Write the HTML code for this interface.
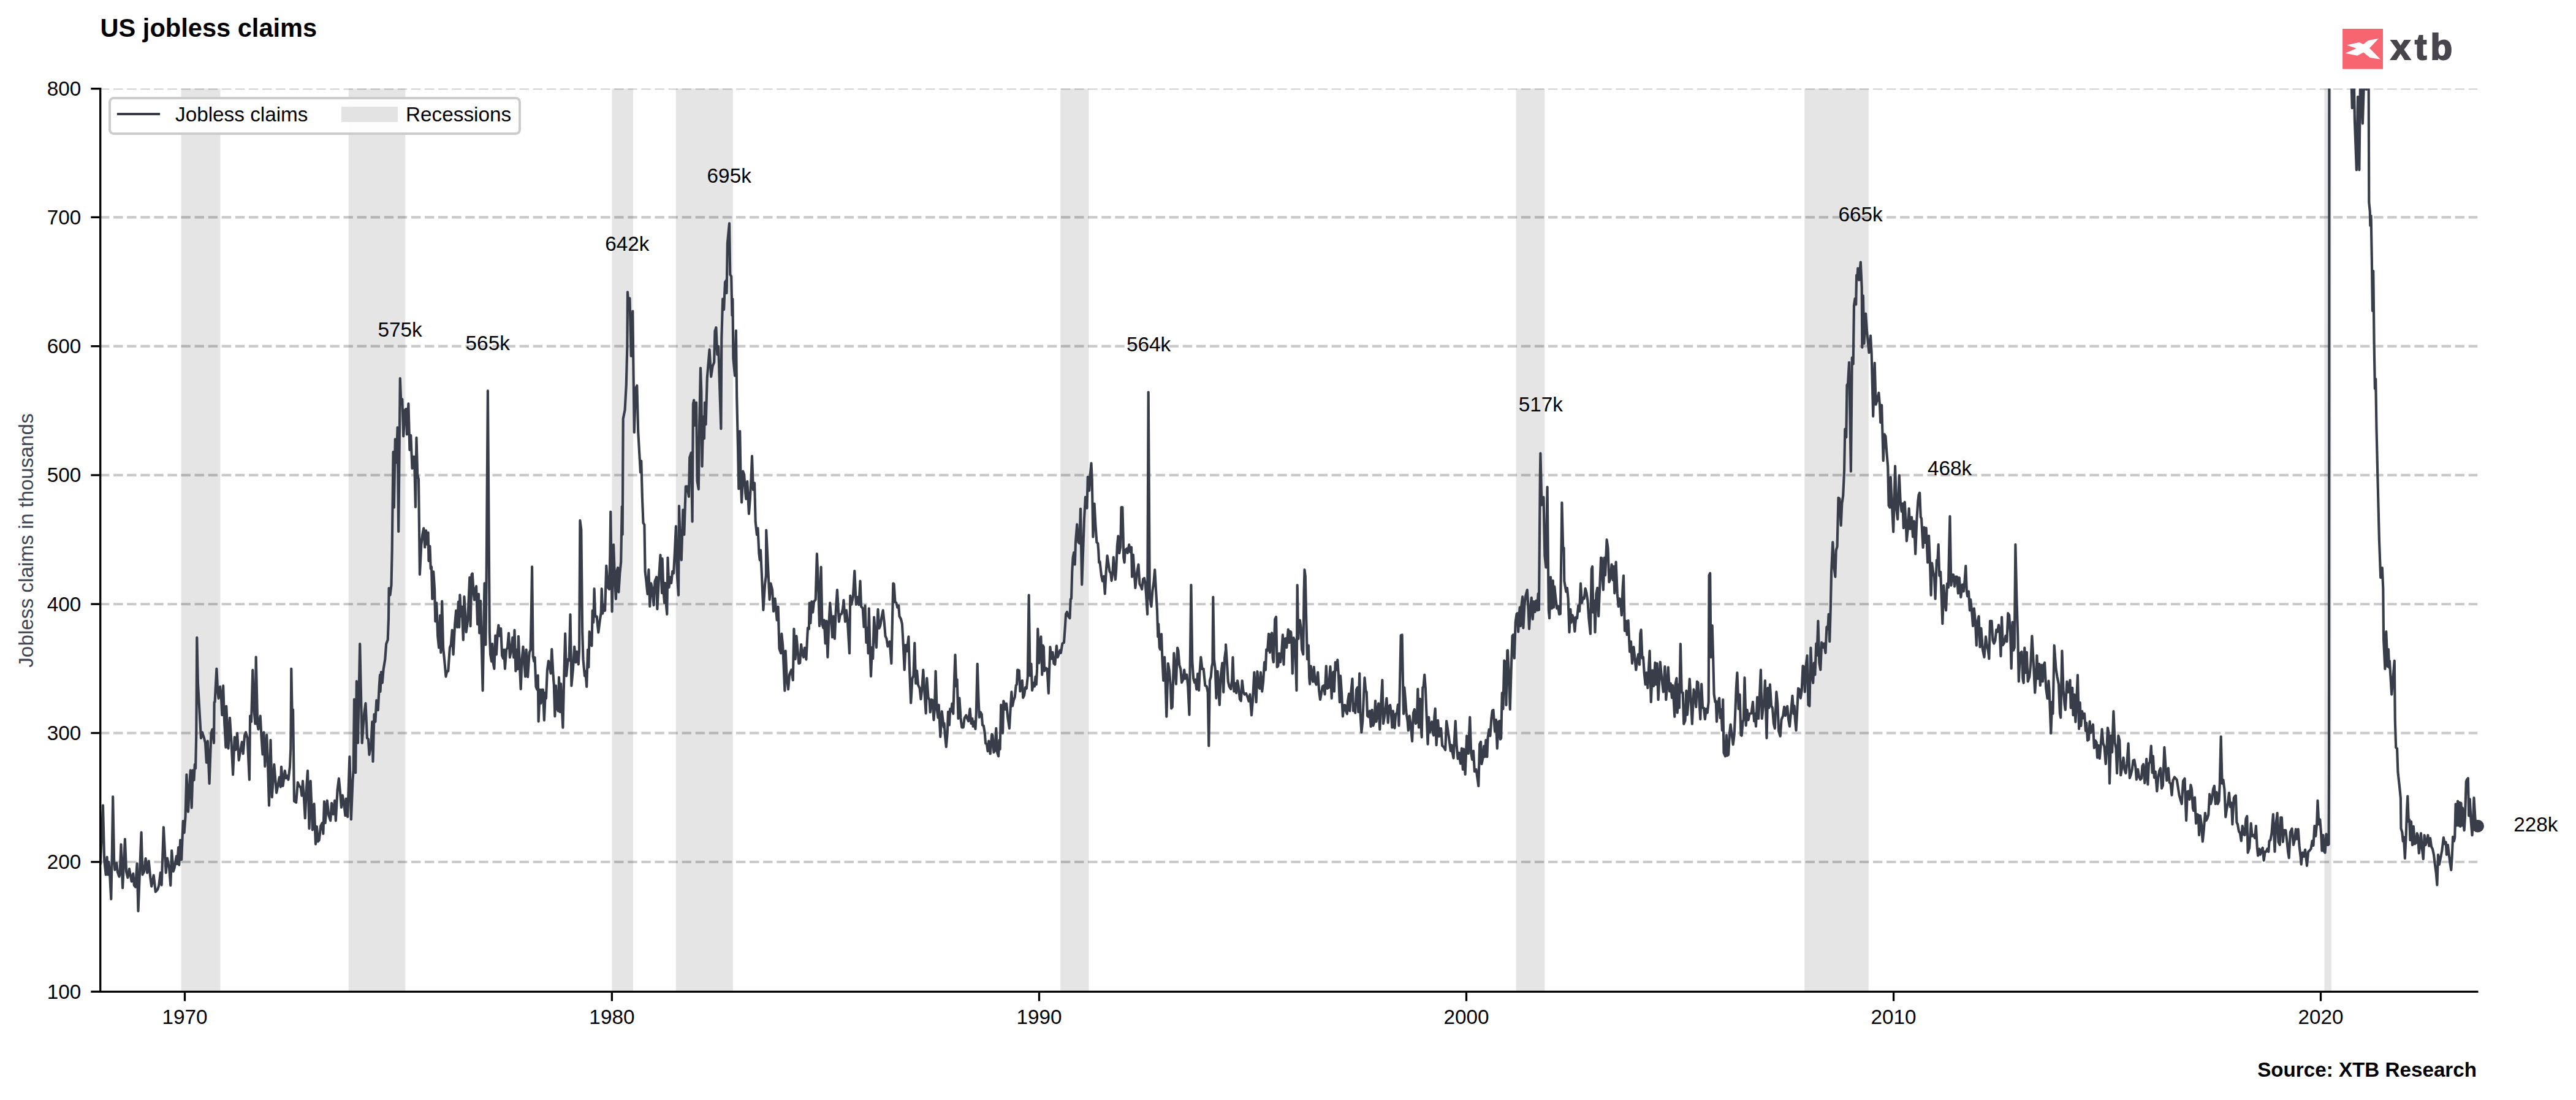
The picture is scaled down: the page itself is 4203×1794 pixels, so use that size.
<!DOCTYPE html>
<html><head><meta charset="utf-8"><title>US jobless claims</title>
<style>
html,body{margin:0;padding:0;background:#fff;}
body{width:4203px;height:1794px;overflow:hidden;}
svg{display:block;}
text{font-family:"Liberation Sans", Arial, Helvetica, sans-serif;}
</style></head><body>
<svg width="4203" height="1794" viewBox="0 0 4203 1794">
<rect width="4203" height="1794" fill="#fff"/>
<defs><clipPath id="c"><rect x="163.7" y="144.45" width="3909.3" height="1472.85"/></clipPath></defs>

<g stroke="#c9c9c9" stroke-width="4.1" stroke-dasharray="15.417 6.667" fill="none">
<line x1="163.0" y1="1405.77" x2="4042.2" y2="1405.77"/>
<line x1="163.0" y1="1195.48" x2="4042.2" y2="1195.48"/>
<line x1="163.0" y1="985.19" x2="4042.2" y2="985.19"/>
<line x1="163.0" y1="774.91" x2="4042.2" y2="774.91"/>
<line x1="163.0" y1="564.62" x2="4042.2" y2="564.62"/>
<line x1="163.0" y1="354.33" x2="4042.2" y2="354.33"/>
</g>
<line x1="163.0" y1="145.40" x2="4042.2" y2="145.40" stroke="#c9c9c9" stroke-width="1.9" stroke-dasharray="15.417 6.667"/>
<g fill="#000" fill-opacity="0.102">
<rect x="295.6" y="144.45" width="63.9" height="1471.65"/>
<rect x="568.7" y="144.45" width="92.6" height="1471.65"/>
<rect x="998.4" y="144.45" width="34.7" height="1471.65"/>
<rect x="1102.8" y="144.45" width="93.1" height="1471.65"/>
<rect x="1730.1" y="144.45" width="46.4" height="1471.65"/>
<rect x="2473.6" y="144.45" width="46.8" height="1471.65"/>
<rect x="2944.2" y="144.45" width="104.6" height="1471.65"/>
<rect x="3792.4" y="144.45" width="11.5" height="1471.65"/>
</g>
<path d="M163.8 1409.0L168.0 1313.6L170.2 1402.7L172.7 1426.5L174.6 1397.9L175.9 1426.5L177.5 1405.9L179.1 1424.9L181.3 1466.3L182.9 1386.8L184.2 1299.3L186.1 1402.7L187.4 1418.6L190.2 1407.5L191.8 1421.8L194.4 1429.7L195.6 1424.9L197.5 1377.2L200.1 1448.2L203.9 1368.6L206.1 1421.8L208.4 1431.3L210.9 1417.0L214.7 1437.7L217.3 1424.9L218.9 1444.0L221.1 1446.6L223.6 1408.4L225.5 1486.0L230.6 1357.5L232.5 1426.5L235.1 1421.8L237.6 1400.1L240.2 1423.4L242.7 1404.3L245.3 1431.3L247.2 1445.6L250.7 1427.5L253.8 1454.5L257.3 1450.4L259.3 1444.0L261.8 1423.4L263.7 1443.4L266.9 1349.2L270.7 1423.4L272.9 1399.5L276.1 1415.4L278.3 1444.0L280.2 1387.4L282.8 1421.1L284.7 1415.4L287.9 1396.3L289.2 1409.0L291.1 1382.0L292.3 1410.6L294.2 1370.2L296.2 1402.0L298.7 1339.1L300.6 1358.1L302.5 1332.7L304.4 1263.3L307.0 1323.8L308.9 1285.0L310.8 1256.3L312.7 1317.4L314.6 1256.3L316.5 1272.3L317.8 1246.8L319.1 1253.2L320.3 1195.9L321.3 1039.8L322.9 1113.6L325.4 1158.1L328.0 1203.9L329.9 1194.3L333.1 1203.9L335.0 1211.8L336.9 1243.6L338.8 1208.6L341.6 1278.0L344.5 1195.9L346.4 1189.5L347.7 1197.5L349.0 1211.8L349.6 1145.4L350.6 1144.8L351.5 1126.3L353.4 1090.7L355.3 1127.9L356.6 1139.0L359.1 1119.9L361.0 1139.0L362.3 1166.1L364.2 1118.4L366.1 1177.2L368.4 1218.8L369.3 1151.8L372.5 1220.7L375.0 1170.8L377.6 1211.8L380.1 1263.3L382.7 1202.3L384.6 1222.9L387.1 1195.9L389.7 1239.8L392.2 1224.5L394.8 1210.2L396.7 1229.3L399.2 1199.1L401.1 1194.3L403.7 1203.9L406.9 1271.6L408.1 1167.7L410.0 1177.2L412.3 1092.9L414.5 1158.1L416.4 1180.4L417.7 1071.6L420.2 1182.0L421.5 1189.5L424.7 1167.7L426.6 1202.3L428.5 1230.3L430.4 1194.3L432.3 1250.0L435.2 1198.5L436.8 1237.3L439.0 1313.6L441.5 1207.0L443.8 1300.2L447.3 1246.8L451.1 1292.9L453.3 1281.8L455.8 1267.5L457.8 1283.4L459.0 1250.6L461.6 1281.8L464.8 1257.0L466.7 1269.1L468.6 1265.3L470.5 1271.6L473.0 1250.0L474.3 1221.4L475.3 1090.7L476.8 1174.0L478.1 1157.5L480.0 1306.6L483.2 1308.8L485.8 1276.1L488.3 1281.8L490.8 1285.0L492.4 1297.7L494.0 1273.8L495.9 1300.9L497.8 1334.3L499.7 1289.8L502.0 1257.0L504.5 1351.1L506.7 1273.8L509.9 1353.4L512.5 1311.1L515.0 1376.6L516.9 1348.0L518.8 1372.5L520.7 1370.2L523.3 1347.0L525.8 1342.2L527.4 1359.7L529.0 1307.2L530.6 1342.2L533.8 1305.7L536.3 1329.5L539.2 1338.4L541.1 1309.8L543.6 1327.9L546.2 1305.7L547.8 1338.4L550.6 1288.2L552.9 1269.7L554.8 1289.8L557.0 1316.8L558.9 1297.1L561.5 1313.6L563.4 1330.2L564.6 1302.5L567.2 1332.1L570.4 1234.1L572.9 1336.5L575.5 1272.3L576.7 1256.3L578.0 1140.6L580.2 1260.2L581.8 1111.0L584.0 1211.8L587.2 1050.0L590.7 1211.8L594.2 1163.8L596.5 1147.0L599.0 1203.9L600.9 1205.4L602.5 1230.9L605.4 1215.0L607.3 1177.2L608.5 1242.0L610.5 1165.1L612.4 1177.2L614.3 1142.2L616.8 1158.1L618.7 1119.9L620.0 1100.9L620.6 1127.9L621.9 1096.1L623.8 1113.6L625.7 1091.3L628.3 1075.4L630.2 1050.0L632.7 1043.6L634.0 1008.6L634.6 959.3L636.5 970.4L638.5 954.5L639.7 897.3L641.6 737.0L642.9 827.7L644.8 716.3L646.7 754.5L648.6 697.2L650.2 867.0L652.8 617.1L654.4 659.1L656.3 651.1L658.2 711.5L660.7 668.6L662.6 667.0L663.9 708.4L666.4 658.4L668.4 733.8L670.3 710.0L672.5 764.0L674.7 744.9L676.0 744.9L677.9 827.0L679.5 713.8L681.1 773.6L683.0 781.5L684.9 937.0L687.4 887.7L689.3 871.8L691.3 861.6L693.2 892.5L695.1 865.4L697.0 887.7L698.6 868.6L699.5 914.8L701.4 890.9L702.7 927.5L704.0 924.3L705.3 976.8L707.2 932.3L709.1 960.9L710.3 1013.4L712.3 983.2L714.2 1037.2L716.1 1056.3L718.0 1003.8L719.3 1064.3L721.2 980.6L723.1 1056.3L725.0 1075.4L727.5 1103.4L729.4 1094.5L731.3 1094.5L733.9 1056.3L735.8 1051.5L737.7 1027.7L739.6 1067.5L742.2 1018.1L744.1 995.9L746.0 1022.9L747.9 981.6L749.2 1022.9L750.4 970.4L752.3 1005.4L753.6 989.5L755.8 1043.6L757.4 973.0L759.0 999.1L760.6 1030.9L763.2 1011.8L764.4 984.7L766.3 941.8L767.6 1021.3L769.5 937.0L770.8 935.4L772.7 967.2L774.0 978.4L775.9 960.9L777.1 956.1L779.1 1018.1L781.0 968.8L782.2 1032.5L784.1 980.0L786.1 1062.7L787.6 1126.3L789.2 1030.9L790.5 951.3L792.4 1051.5L793.7 937.0L795.9 637.4L798.8 1030.9L800.1 1067.5L802.0 1078.6L803.2 1050.0L804.5 1080.2L806.4 1090.7L808.3 1036.6L809.9 1067.5L811.8 1034.1L813.4 1019.7L815.3 1037.2L817.2 1025.1L819.1 1069.0L821.0 1073.8L822.3 1059.5L823.9 1090.7L826.1 1059.5L828.0 1056.3L830.0 1032.5L831.9 1072.2L833.8 1062.7L836.3 1039.8L838.2 1072.2L839.5 1027.7L841.4 1094.5L843.3 1059.5L844.6 1091.3L845.9 1037.9L847.8 1081.8L849.7 1123.8L851.6 1075.4L853.5 1054.7L855.4 1081.8L857.0 1103.4L858.6 1059.5L861.1 1104.0L863.7 1064.3L865.6 1059.5L866.9 999.1L868.1 924.3L869.7 1070.6L871.3 1078.6L872.6 1072.2L874.5 1119.9L876.4 1124.7L877.7 1101.5L878.6 1176.6L880.9 1124.7L882.4 1147.0L884.0 1124.7L885.9 1124.7L887.9 1174.7L889.8 1129.5L891.0 1139.0L892.9 1092.9L894.9 1078.0L896.8 1088.1L898.7 1098.3L900.3 1058.9L902.5 1099.3L903.8 1116.8L905.4 1168.3L906.9 1118.4L908.9 1154.9L910.8 1159.7L912.0 1104.7L913.9 1161.3L915.2 1115.2L916.5 1148.6L918.4 1186.7L920.3 1104.0L922.2 1033.4L924.1 1102.4L926.7 1075.4L928.6 1077.0L930.5 1002.2L932.4 1118.4L934.9 1091.3L937.2 1054.7L939.4 1080.2L941.3 1062.7L943.8 1083.4L945.1 1059.5L946.4 848.9L948.3 863.9L950.2 1030.9L951.5 1075.4L954.0 1102.4L955.3 1094.5L957.2 1119.9L959.1 1059.5L960.4 1088.1L961.7 1030.2L963.6 1051.5L965.5 1053.1L966.7 995.9L968.3 1015.0L969.6 960.2L971.2 1005.4L973.7 1005.4L976.3 1031.5L978.8 1011.8L980.7 999.1L981.7 960.2L983.3 1000.6L985.2 986.3L987.1 995.9L989.3 922.7L991.6 957.7L994.1 960.9L995.4 903.6L996.3 834.7L998.6 997.5L1001.1 888.4L1003.0 941.8L1004.9 976.8L1006.2 932.3L1008.1 925.9L1009.4 965.7L1011.3 935.4L1013.2 916.3L1014.8 826.1L1015.7 871.8L1016.7 682.9L1019.6 668.6L1021.8 627.2L1023.4 563.6L1024.0 476.3L1025.9 504.9L1027.5 486.5L1029.7 580.7L1032.3 507.5L1034.8 705.2L1037.1 633.6L1039.3 628.8L1041.2 703.6L1043.7 748.1L1045.0 770.4L1046.3 751.9L1047.9 811.8L1049.5 852.7L1051.4 855.9L1052.6 932.3L1054.5 948.2L1056.5 968.8L1058.4 929.1L1060.3 988.9L1062.2 951.3L1064.1 959.3L1066.6 987.0L1068.5 948.2L1071.1 941.2L1072.4 993.3L1074.9 945.0L1077.5 905.2L1080.0 967.1L1080.6 911.1L1082.5 963.6L1084.1 983.3L1085.1 950.9L1086.4 981.1L1088.3 1001.8L1089.5 909.5L1091.5 957.9L1093.4 941.4L1095.3 950.9L1097.2 931.8L1099.1 935.0L1101.0 899.0L1102.9 858.3L1104.8 937.2L1107.0 970.6L1108.0 825.2L1109.9 887.9L1111.8 913.3L1114.4 831.6L1116.3 872.0L1118.8 793.4L1121.4 793.4L1123.9 810.0L1125.2 746.3L1127.7 738.4L1129.6 850.7L1130.9 658.9L1132.2 652.5L1134.1 693.8L1136.0 656.6L1137.6 784.5L1139.8 797.9L1141.1 695.4L1143.0 600.4L1144.3 638.2L1145.5 760.6L1147.4 679.5L1149.0 715.2L1150.0 656.6L1151.6 692.3L1153.8 615.9L1157.6 570.2L1160.2 614.3L1162.7 597.2L1165.2 590.8L1166.5 539.9L1168.4 534.2L1170.3 578.1L1172.2 564.8L1174.2 631.8L1176.4 699.3L1177.3 552.7L1179.2 487.5L1181.1 504.9L1183.0 460.4L1184.9 457.2L1185.6 477.9L1186.9 396.8L1190.0 364.3L1191.3 447.7L1193.2 450.9L1194.5 514.5L1195.4 487.5L1196.4 584.5L1199.0 612.7L1200.9 539.3L1202.2 647.7L1204.1 733.6L1205.3 797.2L1207.2 703.4L1208.5 778.1L1210.1 819.5L1212.3 768.6L1214.2 774.3L1216.2 803.6L1217.4 813.8L1219.3 785.1L1221.9 838.0L1223.8 813.8L1225.7 778.1L1227.0 743.8L1228.9 798.8L1231.1 787.7L1232.7 851.3L1234.9 872.0L1236.5 861.5L1238.4 902.2L1239.7 913.3L1241.0 897.4L1242.9 937.2L1245.4 994.8L1248.0 954.1L1249.9 938.2L1250.2 864.7L1253.7 938.2L1255.6 977.9L1257.5 951.5L1260.1 962.0L1262.0 997.0L1264.5 976.3L1267.7 1011.3L1269.6 989.7L1271.5 1057.5L1274.1 1065.4L1275.3 1033.6L1277.2 1052.7L1280.4 1126.5L1281.7 1061.6L1283.6 1103.6L1286.1 1124.3L1288.0 1100.4L1291.2 1092.5L1293.8 1109.3L1295.4 1025.7L1297.6 1075.0L1299.5 1037.4L1301.4 1059.1L1303.3 1082.0L1305.2 1081.3L1307.1 1051.1L1309.0 1065.4L1311.0 1071.8L1312.9 1056.5L1315.4 1075.6L1318.0 1024.1L1319.9 1025.7L1320.8 983.3L1322.4 1016.1L1324.3 981.1L1326.2 998.6L1328.1 981.1L1330.7 977.9L1332.9 903.2L1335.1 954.1L1337.0 1020.9L1339.6 924.8L1341.5 1018.3L1343.4 1024.1L1344.7 1011.3L1346.6 1049.5L1348.5 1012.9L1350.4 1071.8L1352.3 1020.9L1354.2 983.3L1356.1 1005.0L1358.0 1039.3L1359.9 1005.0L1361.9 1041.6L1363.8 995.4L1366.0 962.0L1368.9 1013.9L1370.8 1002.4L1373.3 1001.2L1375.2 992.3L1376.5 978.9L1379.0 1013.9L1380.9 995.4L1382.8 1011.3L1386.0 1065.4L1387.3 971.6L1389.2 985.9L1391.8 973.8L1394.3 931.2L1396.8 985.9L1399.4 973.8L1401.3 986.5L1403.5 947.7L1405.1 989.1L1407.7 992.3L1409.6 1022.5L1411.5 987.5L1413.4 1047.9L1415.3 1024.1L1416.6 1065.4L1417.8 992.3L1419.7 1065.4L1421.0 1103.0L1422.9 1055.9L1424.2 1074.3L1426.1 1006.6L1428.0 1033.6L1429.9 1055.9L1432.5 993.8L1434.4 1024.7L1436.3 1020.2L1438.2 1008.2L1440.7 995.4L1442.7 1014.5L1444.6 1037.4L1446.5 1041.6L1448.4 1054.3L1451.6 1046.3L1454.4 1082.0L1457.3 951.5L1458.6 952.5L1460.5 982.1L1462.4 983.3L1464.3 990.7L1466.2 987.5L1467.5 1005.0L1470.0 1009.8L1471.9 1017.7L1473.8 1052.1L1475.7 1092.5L1477.6 1052.1L1479.6 1062.2L1482.4 1038.4L1484.0 1090.9L1486.2 1146.5L1488.5 1106.8L1490.4 1102.0L1492.3 1048.9L1494.2 1114.7L1496.1 1094.1L1498.0 1117.0L1500.6 1122.7L1502.5 1140.2L1504.4 1122.7L1506.3 1092.5L1508.8 1135.4L1510.7 1163.4L1512.3 1106.1L1514.5 1137.0L1516.5 1141.8L1517.7 1161.5L1519.6 1141.1L1521.5 1141.8L1523.5 1174.2L1525.0 1154.5L1526.6 1094.7L1528.5 1154.5L1530.5 1170.4L1531.7 1149.7L1534.3 1201.6L1536.8 1160.2L1538.7 1176.8L1540.0 1186.3L1540.6 1179.9L1541.9 1199.0L1543.8 1218.1L1545.7 1195.8L1547.0 1160.9L1548.9 1182.5L1550.2 1156.1L1552.1 1160.2L1553.4 1147.5L1555.3 1164.0L1557.2 1103.6L1558.5 1068.0L1560.4 1119.5L1561.6 1108.4L1563.5 1172.0L1565.4 1138.6L1567.4 1170.4L1569.3 1186.3L1571.8 1186.3L1573.7 1171.0L1576.3 1166.6L1578.2 1172.0L1580.1 1176.1L1582.6 1156.1L1584.5 1179.9L1586.4 1172.0L1587.7 1184.7L1589.6 1176.8L1591.5 1188.9L1592.8 1164.0L1594.7 1082.9L1596.6 1141.8L1597.9 1169.8L1599.8 1161.5L1601.7 1164.7L1603.0 1182.5L1604.9 1183.8L1606.8 1195.8L1608.1 1212.4L1610.0 1213.3L1611.6 1225.1L1613.2 1208.6L1615.7 1229.3L1618.3 1197.4L1619.5 1199.0L1621.4 1227.0L1623.3 1224.5L1625.3 1187.9L1627.2 1227.7L1629.1 1233.4L1630.7 1207.0L1631.6 1221.9L1633.2 1149.7L1634.8 1154.5L1636.1 1195.8L1637.3 1143.4L1638.6 1146.5L1640.2 1157.0L1642.1 1147.5L1644.3 1170.4L1646.9 1187.9L1648.8 1154.5L1650.4 1128.4L1652.0 1151.3L1653.9 1141.8L1655.8 1137.0L1657.7 1117.9L1659.0 1116.3L1660.2 1092.5L1662.8 1093.4L1664.4 1127.5L1666.3 1112.5L1667.9 1110.0L1669.2 1138.0L1671.1 1133.8L1673.0 1121.1L1674.9 1122.7L1676.8 1103.6L1678.7 970.6L1680.6 1102.0L1682.5 1082.9L1684.1 1125.9L1686.3 1113.8L1687.9 1119.5L1689.5 1103.6L1690.8 1116.3L1692.1 1090.9L1693.3 1025.7L1695.2 1081.3L1696.8 1051.1L1698.4 1038.4L1700.3 1100.4L1701.6 1052.7L1702.9 1055.2L1704.1 1094.1L1706.1 1089.3L1708.6 1090.9L1710.8 1130.6L1713.4 1055.2L1715.6 1074.3L1717.5 1063.8L1719.4 1082.0L1721.3 1083.9L1723.9 1053.3L1725.8 1071.8L1727.7 1066.1L1729.6 1060.6L1730.9 1064.8L1733.4 1049.5L1736.0 1047.9L1737.9 1020.9L1739.1 1001.2L1741.0 998.0L1743.0 1005.0L1745.5 1008.2L1746.8 977.0L1748.0 976.3L1749.3 931.8L1750.6 909.5L1752.2 901.0L1753.8 920.7L1755.0 883.8L1757.3 855.2L1759.5 884.5L1761.4 886.1L1763.0 829.8L1765.2 953.4L1769.0 846.3L1771.0 810.7L1773.5 828.8L1774.8 777.9L1777.3 800.2L1778.6 776.3L1780.5 755.6L1781.8 782.7L1783.4 875.6L1785.6 821.5L1787.5 857.4L1789.4 884.5L1791.3 886.1L1792.3 898.8L1793.2 917.5L1794.5 915.9L1797.0 938.8L1798.9 947.7L1800.9 939.8L1802.8 968.4L1804.7 931.8L1806.6 906.4L1808.5 919.1L1810.4 931.8L1812.3 935.0L1813.6 947.1L1815.5 931.8L1816.8 908.9L1818.4 931.8L1819.9 945.2L1821.2 928.6L1822.8 890.8L1824.4 874.3L1826.3 902.0L1828.2 892.4L1829.5 827.2L1831.4 827.2L1832.7 878.1L1833.3 909.5L1834.6 917.5L1835.8 897.2L1838.4 894.7L1839.7 902.0L1842.2 888.3L1844.1 900.4L1846.0 892.4L1847.0 940.7L1848.9 904.8L1850.8 935.0L1852.4 958.9L1854.9 935.0L1857.5 920.7L1859.4 952.5L1861.3 955.7L1863.2 961.1L1865.1 944.5L1867.0 942.9L1868.6 950.9L1870.2 971.6L1872.1 1001.8L1873.7 639.5L1875.9 973.2L1878.5 989.1L1880.4 963.6L1882.3 950.9L1884.2 929.3L1886.1 963.6L1888.0 995.4L1889.3 1038.4L1890.2 1017.7L1891.8 1055.9L1893.1 1059.1L1895.0 1034.2L1896.3 1071.8L1898.2 1110.0L1900.1 1071.8L1901.4 1103.6L1903.3 1168.8L1905.8 1082.0L1907.7 1092.5L1909.7 1116.3L1911.2 1155.4L1912.8 1152.9L1915.4 1065.4L1917.3 1090.9L1918.9 1115.7L1921.1 1056.5L1922.4 1060.6L1924.3 1084.5L1926.2 1090.9L1928.1 1113.1L1930.3 1108.4L1932.2 1092.5L1933.8 1106.8L1936.4 1100.4L1938.3 1119.5L1940.5 1165.6L1942.1 1059.1L1943.4 954.1L1945.3 1078.1L1947.2 1106.8L1949.1 1113.1L1950.4 1108.4L1952.3 1124.3L1954.2 1098.8L1956.1 1125.9L1957.4 1097.2L1959.3 1071.8L1961.5 1090.9L1963.7 1090.9L1966.3 1117.9L1968.8 1119.5L1970.7 1129.0L1972.3 1216.5L1973.9 1110.0L1975.8 1103.6L1977.1 1087.7L1978.4 1081.3L1979.3 973.8L1980.9 1075.0L1982.8 1090.9L1984.4 1138.6L1986.6 1094.7L1987.9 1116.3L1989.8 1149.7L1991.7 1103.6L1994.3 1081.3L1996.2 1129.0L1998.1 1073.4L2000.0 1059.1L2000.0 1051.3L2001.9 1080.0L2003.8 1111.8L2005.7 1119.7L2008.3 1123.9L2010.2 1108.6L2011.5 1072.0L2013.4 1127.7L2015.3 1114.3L2017.2 1130.2L2019.1 1110.2L2021.0 1121.3L2022.9 1140.4L2024.8 1143.0L2026.7 1110.2L2028.6 1127.7L2030.5 1132.5L2033.1 1130.9L2035.6 1137.2L2037.5 1143.6L2039.4 1132.5L2042.0 1166.5L2043.9 1143.6L2046.4 1096.5L2048.4 1127.7L2049.6 1145.2L2051.5 1095.2L2053.4 1119.7L2055.4 1122.9L2056.9 1096.5L2059.2 1127.7L2061.1 1111.8L2063.0 1080.0L2064.9 1092.7L2066.2 1059.3L2068.1 1060.9L2070.0 1033.8L2071.9 1064.1L2073.8 1035.4L2075.1 1032.3L2076.7 1073.6L2077.9 1080.0L2080.2 1010.0L2082.1 1006.2L2083.7 1087.9L2085.3 1086.3L2087.2 1065.7L2089.1 1080.0L2091.0 1065.7L2092.9 1035.4L2094.5 1083.8L2096.1 1041.8L2098.0 1041.2L2099.3 1056.1L2101.8 1026.5L2103.7 1048.2L2105.0 1029.7L2106.3 1030.7L2107.5 1049.8L2108.8 1098.4L2110.7 1040.2L2112.6 1045.0L2113.9 1073.6L2115.5 1126.1L2116.7 954.3L2118.3 1041.8L2119.6 1013.8L2120.9 1011.6L2122.5 1022.7L2124.1 1059.3L2126.3 1067.2L2127.6 965.4L2128.5 929.2L2129.8 940.0L2131.1 1003.6L2133.0 1075.2L2134.9 1052.9L2136.2 1105.4L2137.1 1115.6L2138.7 1086.3L2140.6 1103.8L2142.2 1111.8L2143.8 1087.9L2145.7 1111.8L2147.6 1116.6L2150.2 1096.5L2152.1 1126.1L2154.0 1141.0L2155.9 1130.9L2157.8 1119.7L2159.7 1118.1L2161.6 1132.5L2163.8 1086.3L2165.7 1122.9L2168.0 1121.3L2170.5 1087.0L2172.7 1138.8L2174.3 1099.1L2175.6 1095.9L2176.9 1127.7L2178.8 1080.0L2180.7 1092.7L2182.3 1076.2L2183.9 1100.6L2185.8 1145.2L2187.1 1102.2L2189.0 1129.3L2190.9 1168.4L2192.8 1150.0L2194.7 1150.0L2196.0 1159.5L2197.9 1164.3L2199.1 1143.6L2201.0 1131.5L2202.3 1159.5L2204.2 1130.9L2206.5 1107.0L2208.0 1159.5L2210.0 1148.4L2211.2 1162.7L2213.1 1124.5L2215.0 1121.3L2216.3 1161.1L2218.2 1098.4L2219.5 1162.7L2221.4 1194.5L2223.3 1175.4L2225.2 1132.5L2226.5 1105.4L2228.4 1127.7L2229.7 1128.3L2231.0 1167.5L2232.9 1169.0L2234.8 1159.5L2236.7 1184.9L2238.6 1157.9L2240.5 1183.4L2242.4 1177.0L2244.0 1143.0L2245.6 1177.0L2247.5 1162.7L2249.1 1147.4L2251.3 1189.7L2253.2 1150.0L2255.4 1109.2L2257.0 1180.2L2258.9 1169.0L2260.9 1153.1L2262.4 1138.8L2264.7 1178.6L2266.6 1151.5L2268.2 1150.0L2269.8 1162.7L2271.4 1186.5L2272.9 1159.5L2275.5 1187.5L2277.4 1164.3L2279.3 1162.7L2280.9 1149.3L2282.5 1183.4L2284.1 1111.8L2285.7 1036.1L2287.6 1035.4L2288.9 1105.4L2290.1 1164.3L2291.4 1121.3L2292.7 1137.2L2294.6 1162.7L2296.5 1175.4L2297.8 1191.3L2299.7 1167.5L2301.6 1181.8L2304.1 1208.8L2306.0 1162.7L2307.9 1157.0L2309.8 1180.2L2311.8 1177.0L2313.3 1123.9L2314.9 1186.5L2316.8 1139.8L2318.1 1178.6L2319.7 1202.4L2321.3 1121.3L2322.6 1119.7L2324.2 1100.6L2325.8 1121.3L2327.7 1169.0L2329.6 1213.6L2331.2 1169.7L2332.8 1194.5L2334.7 1183.4L2336.2 1177.0L2337.8 1194.5L2339.1 1199.3L2340.4 1169.0L2341.7 1155.7L2343.6 1215.2L2346.1 1174.8L2348.0 1200.9L2349.6 1188.1L2351.2 1188.1L2353.1 1216.1L2355.7 1218.4L2358.2 1223.1L2360.1 1176.0L2362.0 1188.1L2364.6 1207.2L2366.8 1224.7L2368.4 1215.2L2369.7 1226.3L2371.6 1236.5L2372.8 1210.4L2374.7 1176.0L2376.7 1216.8L2378.6 1237.4L2380.5 1227.9L2383.0 1245.4L2384.9 1220.6L2386.8 1254.9L2388.1 1221.5L2390.6 1262.9L2393.2 1200.2L2395.7 1228.9L2398.3 1169.7L2400.2 1227.9L2402.1 1239.0L2404.0 1224.7L2405.9 1258.1L2408.5 1254.9L2410.4 1267.7L2412.3 1282.0L2414.2 1213.6L2416.1 1209.8L2417.4 1246.0L2419.3 1237.4L2421.2 1216.8L2422.5 1234.3L2424.4 1207.2L2426.3 1234.3L2427.5 1203.4L2429.5 1189.7L2431.4 1200.2L2433.3 1172.2L2434.9 1158.9L2436.5 1157.9L2439.0 1192.9L2440.9 1173.8L2442.8 1220.6L2444.7 1177.0L2446.6 1176.0L2447.9 1205.6L2449.2 1204.0L2450.8 1130.2L2452.4 1156.3L2454.3 1077.4L2456.2 1079.3L2457.5 1150.0L2459.4 1060.9L2460.0 1060.6L2461.9 1103.6L2463.8 1157.0L2465.7 1090.9L2467.6 1036.8L2468.9 1035.2L2470.8 1073.4L2472.7 1014.5L2474.6 1001.2L2475.9 1000.2L2477.2 1030.4L2478.5 1005.0L2479.7 990.7L2481.0 1020.9L2482.3 987.5L2484.2 973.2L2485.4 1024.1L2487.4 985.9L2489.3 971.6L2491.8 962.0L2493.7 995.4L2495.0 1025.7L2496.9 992.3L2498.8 974.8L2500.7 1009.8L2502.6 981.1L2504.5 998.0L2506.4 979.5L2508.4 995.4L2509.6 968.4L2510.9 994.8L2512.8 779.1L2513.4 739.3L2515.4 823.6L2516.6 822.0L2518.5 810.9L2520.4 906.3L2522.4 925.4L2524.6 794.3L2526.8 995.4L2528.1 1008.2L2530.0 941.4L2531.9 992.3L2533.8 947.1L2535.1 990.7L2536.3 956.6L2538.3 976.3L2540.2 992.3L2542.1 988.4L2544.0 1001.8L2545.9 1001.2L2546.8 938.2L2547.8 874.5L2548.4 819.8L2550.3 896.8L2551.6 893.6L2552.3 947.7L2554.2 958.9L2555.4 965.2L2557.0 958.9L2558.6 976.3L2560.5 1031.1L2562.4 993.8L2563.7 1015.2L2565.6 1003.4L2567.5 1008.2L2569.4 1029.8L2571.3 1006.6L2573.2 1008.2L2575.2 987.5L2577.1 997.0L2579.0 951.5L2580.9 983.3L2582.8 974.8L2584.7 976.3L2586.6 959.8L2588.5 966.8L2590.4 979.5L2592.3 1008.2L2594.9 1033.6L2596.8 928.6L2598.1 923.9L2599.3 998.6L2601.2 979.5L2602.5 1031.1L2604.4 968.4L2606.3 958.9L2608.2 1005.0L2610.2 957.3L2612.1 909.5L2613.3 910.1L2614.6 941.3L2615.9 962.0L2617.8 909.5L2619.1 938.1L2621.6 880.2L2623.5 893.6L2625.4 949.3L2627.3 944.5L2629.6 920.6L2631.8 946.1L2633.1 923.8L2634.3 967.4L2636.6 916.5L2638.8 968.4L2640.7 989.1L2642.6 976.3L2643.9 979.5L2645.8 1003.4L2647.7 957.3L2649.0 938.8L2650.9 1028.8L2652.8 1012.9L2654.7 1035.2L2656.6 1012.0L2659.1 1062.9L2661.0 1046.3L2663.0 1082.0L2665.5 1055.2L2667.4 1073.4L2669.3 1092.5L2671.2 1076.6L2673.1 1067.0L2675.0 1083.9L2676.3 1033.6L2677.6 1027.2L2679.5 1073.4L2681.1 1071.8L2682.7 1097.2L2684.6 1116.3L2686.5 1097.2L2688.4 1122.0L2689.7 1097.2L2691.6 1061.6L2693.8 1144.9L2696.0 1093.4L2698.0 1118.9L2700.5 1080.7L2701.8 1116.3L2703.7 1082.0L2705.6 1141.1L2707.5 1103.6L2708.8 1079.7L2711.3 1106.8L2713.9 1128.4L2716.4 1087.1L2718.3 1141.1L2720.2 1116.3L2721.8 1088.3L2724.0 1127.5L2725.9 1114.7L2727.9 1138.0L2729.1 1117.9L2730.4 1135.4L2732.3 1168.8L2733.6 1116.3L2735.5 1106.1L2736.8 1162.4L2738.7 1116.3L2739.9 1154.5L2741.9 1050.2L2743.8 1129.0L2745.7 1129.7L2747.3 1180.6L2749.5 1175.2L2751.4 1126.5L2753.0 1165.6L2754.6 1144.9L2756.8 1107.4L2759.0 1144.9L2760.9 1180.6L2763.5 1124.3L2765.4 1133.8L2767.3 1152.9L2768.9 1111.5L2770.5 1113.1L2772.4 1141.8L2774.3 1172.9L2776.2 1115.7L2778.1 1154.5L2780.0 1154.5L2781.9 1172.9L2783.8 1156.1L2785.8 1162.4L2787.7 1144.9L2788.6 938.1L2790.2 934.9L2791.5 1071.8L2793.7 1020.2L2795.3 1078.1L2796.6 1132.2L2798.5 1144.9L2799.7 1143.4L2801.0 1176.8L2802.9 1148.1L2805.2 1138.6L2806.7 1171.0L2808.3 1157.0L2809.9 1191.1L2811.2 1141.1L2812.5 1227.7L2815.0 1233.4L2816.9 1199.0L2818.2 1232.4L2820.1 1230.8L2822.0 1195.8L2823.6 1181.5L2825.8 1199.0L2827.7 1214.3L2829.7 1197.4L2830.9 1170.4L2832.8 1122.7L2834.4 1097.2L2836.7 1156.1L2838.6 1132.9L2840.5 1199.0L2841.7 1199.7L2843.6 1176.8L2844.9 1173.6L2846.5 1105.2L2848.7 1183.1L2850.6 1157.7L2852.6 1174.2L2854.5 1164.0L2857.6 1163.4L2859.9 1144.9L2862.1 1176.1L2863.4 1164.0L2865.0 1184.7L2867.2 1137.0L2869.1 1172.0L2871.0 1135.4L2872.9 1092.5L2874.8 1172.0L2876.7 1154.5L2878.3 1141.8L2879.9 1110.0L2882.5 1203.8L2884.4 1122.0L2886.3 1154.5L2887.9 1116.3L2890.1 1151.3L2892.0 1154.5L2893.9 1179.9L2895.8 1187.9L2898.4 1128.4L2900.3 1148.1L2902.2 1192.7L2904.7 1200.6L2906.6 1173.6L2909.2 1167.2L2911.1 1152.9L2913.0 1167.2L2914.9 1154.5L2916.2 1151.9L2918.1 1173.6L2920.0 1184.7L2920.0 1184.7L2921.9 1164.0L2924.5 1134.8L2926.4 1164.0L2927.6 1151.3L2928.9 1173.6L2930.5 1191.1L2932.1 1162.4L2934.0 1122.7L2935.9 1124.3L2937.8 1138.6L2939.7 1125.9L2941.6 1086.1L2943.2 1087.7L2944.8 1128.4L2946.7 1084.5L2948.6 1069.2L2950.5 1149.7L2952.4 1151.3L2954.4 1056.5L2956.3 1103.6L2958.2 1113.8L2959.8 1081.3L2961.4 1100.4L2963.3 1049.5L2964.5 1068.6L2966.4 1012.9L2968.4 1081.3L2970.3 1092.5L2972.2 1047.9L2974.1 1055.9L2976.0 1049.5L2978.5 1064.8L2980.4 1022.5L2982.4 1025.7L2983.6 1001.8L2985.2 1046.3L2986.8 992.3L2988.1 931.8L2990.3 884.3L2992.5 926.3L2994.4 940.6L2995.7 897.7L2997.6 891.3L2999.5 811.8L3001.4 813.4L3003.7 857.0L3005.3 821.3L3007.2 808.6L3009.1 767.2L3010.3 699.8L3012.3 713.2L3013.5 628.0L3015.1 625.4L3017.0 591.0L3019.9 768.8L3021.8 583.4L3023.7 593.6L3025.0 498.2L3026.6 487.0L3028.2 496.6L3029.1 448.9L3030.4 453.6L3031.3 437.7L3033.2 456.8L3035.8 427.5L3037.7 469.5L3038.3 566.6L3039.9 482.3L3041.5 560.2L3044.1 511.5L3046.0 539.5L3047.2 552.2L3049.5 575.1L3052.0 547.5L3053.6 574.5L3056.2 678.9L3058.7 592.0L3060.6 659.8L3063.2 650.9L3065.4 640.7L3067.0 660.4L3068.2 689.0L3070.2 660.7L3072.7 751.3L3074.6 708.4L3076.5 711.6L3078.4 738.6L3080.3 760.9L3081.6 824.5L3083.5 827.7L3084.8 778.4L3086.7 818.1L3089.2 867.5L3092.1 760.2L3094.3 830.9L3096.2 846.8L3098.8 775.2L3100.7 818.1L3102.6 834.1L3104.5 821.3L3105.8 861.1L3107.7 818.8L3109.6 850.0L3110.9 882.4L3112.8 862.7L3114.7 829.3L3116.6 862.7L3119.1 843.6L3121.0 875.4L3123.0 850.0L3125.2 903.4L3127.4 846.8L3129.3 818.1L3130.6 807.0L3132.2 803.8L3133.8 843.6L3135.0 845.2L3137.6 892.9L3139.5 860.1L3141.4 884.9L3142.7 861.1L3145.2 917.4L3147.1 873.8L3149.0 918.4L3150.6 970.8L3152.2 918.4L3154.1 932.7L3156.0 940.6L3157.6 976.6L3159.9 913.6L3161.1 919.9L3162.7 888.1L3164.3 939.0L3166.2 932.7L3168.1 980.4L3169.4 1017.1L3171.3 954.9L3173.2 982.0L3175.1 995.4L3177.0 951.8L3178.9 958.1L3180.2 894.5L3181.5 842.0L3183.4 954.9L3185.3 937.4L3187.2 937.4L3189.1 956.5L3191.0 940.6L3192.9 940.6L3194.9 967.7L3196.8 942.2L3199.3 974.0L3201.9 953.3L3203.8 964.5L3205.7 945.4L3207.3 923.1L3208.9 964.5L3210.1 972.4L3212.0 964.5L3213.9 995.4L3215.2 977.9L3217.1 995.4L3219.0 1020.9L3220.9 992.3L3222.8 1011.3L3224.8 1052.7L3226.7 1014.5L3228.6 1005.0L3230.5 1055.2L3232.4 1024.7L3234.9 1059.1L3237.5 1071.8L3240.0 1038.4L3241.9 1052.7L3243.8 1060.6L3245.4 1074.3L3247.0 1012.9L3249.6 1012.9L3251.5 1044.7L3253.4 1049.5L3255.3 1044.7L3257.2 1027.2L3259.1 1030.4L3261.0 1019.3L3262.9 1033.6L3264.5 1070.2L3266.1 1006.6L3267.7 1052.1L3269.9 1048.9L3272.5 1036.8L3274.4 1046.3L3276.3 1000.2L3278.2 1003.4L3280.1 1033.6L3281.7 1090.2L3283.6 1014.5L3285.2 1060.6L3286.8 1055.9L3288.4 888.1L3290.3 973.2L3292.2 1033.6L3293.8 1111.5L3296.0 1065.4L3298.6 1062.9L3300.5 1107.4L3301.7 1113.8L3303.3 1056.5L3304.9 1097.2L3306.8 1063.8L3308.7 1111.5L3311.3 1103.6L3313.2 1084.5L3315.4 1037.4L3317.6 1076.6L3320.2 1129.7L3321.8 1106.8L3323.4 1069.2L3325.3 1106.8L3327.2 1082.9L3328.8 1117.9L3331.0 1084.5L3332.9 1111.5L3334.5 1084.5L3336.1 1080.7L3338.3 1122.7L3340.6 1139.2L3342.5 1110.6L3343.7 1128.4L3346.3 1195.8L3348.2 1144.9L3349.5 1164.0L3351.7 1052.7L3354.5 1090.9L3356.5 1103.6L3359.0 1116.3L3360.9 1163.4L3362.2 1170.4L3364.4 1061.6L3366.6 1125.9L3368.5 1148.1L3369.8 1157.7L3372.4 1111.5L3374.3 1129.0L3376.2 1119.5L3377.5 1109.3L3378.7 1154.5L3380.0 1154.5L3380.0 1153.6L3381.3 1121.8L3382.5 1166.3L3384.5 1132.9L3386.4 1177.5L3388.0 1147.3L3389.9 1101.1L3392.1 1188.6L3393.7 1145.7L3395.3 1183.8L3397.2 1160.0L3399.1 1171.1L3401.0 1163.8L3402.9 1191.8L3404.2 1179.1L3406.1 1207.7L3408.0 1206.1L3409.6 1176.5L3411.2 1195.0L3413.1 1187.0L3415.0 1181.6L3416.9 1219.8L3418.8 1207.7L3420.7 1210.9L3422.0 1235.7L3423.9 1215.7L3425.8 1237.0L3427.7 1214.1L3429.6 1189.3L3431.5 1212.5L3433.4 1217.2L3435.7 1245.9L3437.3 1223.6L3438.9 1187.0L3440.4 1195.0L3442.0 1277.7L3444.3 1199.8L3446.2 1226.8L3448.4 1160.0L3450.6 1210.9L3452.5 1220.4L3454.1 1261.1L3456.3 1199.8L3458.3 1207.7L3460.2 1264.3L3462.7 1249.1L3464.6 1235.7L3466.5 1255.4L3468.4 1261.1L3470.3 1245.9L3472.6 1212.5L3474.8 1268.8L3476.7 1263.4L3478.6 1255.4L3480.5 1240.2L3482.4 1239.5L3484.3 1250.6L3485.9 1271.3L3488.2 1254.8L3490.1 1266.6L3492.0 1271.3L3493.9 1269.7L3495.5 1249.1L3497.1 1246.5L3499.3 1277.1L3500.9 1261.8L3502.2 1237.9L3504.4 1279.3L3506.0 1245.9L3507.9 1242.1L3509.8 1216.6L3511.7 1260.2L3513.0 1233.2L3514.9 1268.1L3516.8 1258.6L3519.3 1290.4L3521.2 1268.1L3523.2 1257.0L3525.1 1252.9L3527.0 1285.6L3528.9 1280.9L3531.4 1218.8L3533.3 1249.1L3535.2 1272.9L3537.8 1252.9L3539.7 1276.1L3541.6 1277.7L3543.5 1296.8L3545.4 1272.9L3548.0 1267.5L3549.9 1269.7L3551.8 1272.0L3553.7 1284.1L3555.6 1296.8L3557.5 1303.8L3559.7 1311.1L3562.0 1273.9L3564.5 1269.7L3567.1 1338.1L3569.0 1291.0L3570.9 1290.4L3572.5 1303.8L3574.4 1280.2L3576.0 1287.2L3577.9 1318.4L3579.1 1322.2L3581.0 1300.6L3583.0 1342.9L3584.9 1328.0L3586.8 1329.2L3588.0 1362.0L3590.0 1330.2L3591.9 1344.5L3593.8 1372.5L3595.7 1354.0L3597.9 1326.0L3599.5 1338.1L3601.4 1334.9L3603.3 1328.6L3605.2 1295.2L3607.1 1311.1L3609.0 1303.1L3611.0 1287.2L3612.9 1281.8L3614.8 1311.1L3616.7 1292.0L3618.6 1311.1L3620.5 1306.3L3621.8 1277.7L3623.7 1201.3L3625.6 1277.7L3627.5 1272.0L3629.4 1287.2L3631.3 1332.4L3633.2 1319.0L3635.1 1309.5L3637.0 1293.0L3638.9 1315.9L3640.9 1309.5L3642.4 1344.5L3644.7 1301.5L3646.6 1298.4L3647.9 1297.4L3649.4 1341.3L3651.0 1344.5L3652.9 1355.6L3654.9 1358.8L3656.8 1371.5L3658.7 1347.0L3660.6 1360.4L3662.5 1362.0L3664.4 1335.6L3666.3 1331.1L3667.6 1390.6L3670.1 1382.7L3672.7 1342.9L3674.6 1363.6L3677.1 1362.0L3679.0 1366.8L3680.9 1347.0L3682.8 1382.7L3684.1 1395.4L3686.0 1384.3L3687.9 1393.8L3689.8 1385.8L3691.8 1382.7L3693.7 1403.3L3695.6 1389.0L3697.5 1389.0L3699.4 1384.3L3701.3 1389.0L3702.6 1371.5L3704.5 1369.9L3706.4 1358.8L3708.9 1328.0L3711.5 1389.0L3713.4 1344.5L3715.6 1326.0L3717.5 1373.1L3719.7 1377.9L3721.0 1333.4L3722.9 1333.4L3724.8 1373.1L3726.7 1354.0L3729.3 1354.0L3731.2 1369.9L3733.1 1389.0L3734.7 1399.2L3736.9 1357.2L3739.5 1351.5L3742.0 1377.9L3743.9 1369.9L3745.8 1352.4L3747.7 1368.4L3749.7 1352.4L3751.6 1379.5L3753.5 1395.4L3754.7 1409.7L3756.7 1390.6L3758.6 1397.0L3761.1 1385.8L3764.0 1411.9L3766.2 1389.0L3768.1 1387.4L3770.6 1384.3L3772.6 1371.5L3774.5 1378.9L3776.4 1347.0L3778.3 1363.6L3780.2 1342.9L3781.5 1305.7L3783.4 1344.5L3785.3 1336.5L3787.2 1360.4L3788.5 1387.4L3790.4 1362.0L3792.3 1389.0L3793.6 1390.6L3795.5 1360.4L3797.4 1377.9L3798.6 1377.9L3799.6 1377.0L3800.0 1250.0L3800.3 600.0L3800.5 -300.0L3835.7 95.1L3837.7 176.2L3839.4 95.1L3840.7 122.4L3841.9 196.0L3844.9 277.1L3847.0 157.8L3849.4 277.1L3851.3 108.7L3854.9 201.4L3856.8 141.5L3858.2 145.8L3859.8 141.5L3861.2 145.8L3862.9 141.5L3864.7 144.5L3865.3 330.0L3866.8 345.0L3867.3 368.0L3868.6 352.0L3869.8 420.0L3871.0 507.0L3872.3 442.0L3873.6 560.0L3874.9 634.0L3876.2 618.0L3877.5 700.0L3879.3 775.0L3881.9 880.0L3884.2 942.0L3886.8 926.0L3888.3 960.0L3889.1 1043.0L3891.4 1091.0L3893.3 1030.0L3895.6 1087.0L3896.9 1059.0L3898.2 1089.0L3898.9 1078.0L3902.2 1132.6L3906.8 1077.7L3907.8 1175.0L3909.2 1219.1L3911.1 1220.7L3912.4 1258.8L3915.0 1282.7L3916.9 1301.8L3917.5 1351.1L3919.4 1357.5L3920.7 1371.8L3922.0 1365.4L3923.9 1399.8L3925.8 1359.0L3927.1 1320.9L3928.3 1298.6L3929.9 1340.0L3931.2 1336.8L3932.5 1370.2L3934.1 1340.0L3936.0 1378.1L3937.9 1347.9L3939.8 1376.5L3941.7 1374.9L3943.6 1359.0L3944.9 1362.2L3946.8 1391.5L3948.0 1381.3L3950.0 1359.0L3951.9 1384.5L3953.8 1401.0L3955.7 1362.2L3957.6 1378.1L3959.5 1371.8L3961.4 1362.2L3963.3 1379.7L3965.2 1367.0L3967.1 1381.3L3969.0 1384.5L3971.0 1394.0L3972.9 1409.9L3974.8 1424.3L3976.4 1443.3L3978.0 1394.0L3979.9 1409.9L3981.8 1400.4L3984.3 1387.7L3986.9 1366.0L3988.8 1376.5L3990.7 1373.4L3991.9 1394.0L3993.9 1378.1L3995.8 1394.0L3997.7 1408.4L3999.3 1418.9L4000.9 1394.0L4002.1 1364.8L4004.0 1371.8L4005.3 1365.4L4006.6 1311.3L4008.5 1346.3L4010.1 1306.6L4011.7 1346.3L4012.9 1308.8L4014.2 1347.9L4015.5 1309.7L4016.8 1346.3L4018.0 1317.7L4019.3 1340.0L4020.6 1354.3L4021.9 1333.6L4023.8 1274.7L4025.0 1271.6L4026.9 1269.3L4028.2 1330.4L4029.8 1303.4L4031.7 1340.0L4033.6 1362.2L4035.2 1333.6L4036.5 1301.1L4038.4 1333.6L4040.3 1352.7L4042.8 1347.3" fill="none" stroke="#383d49" stroke-width="4.15" stroke-linejoin="round" stroke-linecap="round" clip-path="url(#c)"/>
<circle cx="4042.8" cy="1347.3" r="10.2" fill="#383d49"/>
<g stroke="#000" stroke-width="3.3" fill="none">
<line x1="163.7" y1="142.95" x2="163.7" y2="1618.95"/>
<line x1="162.04999999999998" y1="1617.30" x2="4043.5" y2="1617.30"/>
<line x1="148.29999999999998" y1="1617.30" x2="163.7" y2="1617.30"/>
<line x1="148.29999999999998" y1="1405.77" x2="163.7" y2="1405.77"/>
<line x1="148.29999999999998" y1="1195.48" x2="163.7" y2="1195.48"/>
<line x1="148.29999999999998" y1="985.19" x2="163.7" y2="985.19"/>
<line x1="148.29999999999998" y1="774.91" x2="163.7" y2="774.91"/>
<line x1="148.29999999999998" y1="564.62" x2="163.7" y2="564.62"/>
<line x1="148.29999999999998" y1="354.33" x2="163.7" y2="354.33"/>
<line x1="148.29999999999998" y1="144.65" x2="163.7" y2="144.65"/>
<line x1="301.5" y1="1617.30" x2="301.5" y2="1632.70"/>
<line x1="998.4" y1="1617.30" x2="998.4" y2="1632.70"/>
<line x1="1695.5" y1="1617.30" x2="1695.5" y2="1632.70"/>
<line x1="2392.5" y1="1617.30" x2="2392.5" y2="1632.70"/>
<line x1="3089.6" y1="1617.30" x2="3089.6" y2="1632.70"/>
<line x1="3786.5" y1="1617.30" x2="3786.5" y2="1632.70"/>
</g>
<g font-size="33.3" fill="#000">
<text x="132.4" y="1628.7" text-anchor="end">100</text>
<text x="132.4" y="1417.2" text-anchor="end">200</text>
<text x="132.4" y="1206.9" text-anchor="end">300</text>
<text x="132.4" y="996.6" text-anchor="end">400</text>
<text x="132.4" y="786.3" text-anchor="end">500</text>
<text x="132.4" y="576.0" text-anchor="end">600</text>
<text x="132.4" y="365.7" text-anchor="end">700</text>
<text x="132.4" y="156.0" text-anchor="end">800</text>
<text x="301.5" y="1670.4" text-anchor="middle">1970</text>
<text x="998.4" y="1670.4" text-anchor="middle">1980</text>
<text x="1695.5" y="1670.4" text-anchor="middle">1990</text>
<text x="2392.5" y="1670.4" text-anchor="middle">2000</text>
<text x="3089.6" y="1670.4" text-anchor="middle">2010</text>
<text x="3786.5" y="1670.4" text-anchor="middle">2020</text>
</g>
<text transform="translate(53.5 881.5) rotate(-90)" font-size="33.3" fill="#3f4450" text-anchor="middle">Jobless claims in thousands</text>
<text x="163.5" y="59.5" font-size="41.6" font-weight="bold" fill="#000">US jobless claims</text>
<text x="4041" y="1756.2" font-size="33.2" font-weight="bold" fill="#000" text-anchor="end">Source: XTB Research</text>
<g font-size="33.3" fill="#000" text-anchor="middle">
<text x="652.6" y="549.3">575k</text>
<text x="795.7" y="570.6">565k</text>
<text x="1023.3" y="408.9">642k</text>
<text x="1189.7" y="297.5">695k</text>
<text x="1874" y="572.7">564k</text>
<text x="2513.8" y="670.9">517k</text>
<text x="3035.5" y="360.5">665k</text>
<text x="3181" y="775.2">468k</text>
</g>
<text x="4101.2" y="1355.9" font-size="33.3" fill="#000">228k</text>
<rect x="179" y="160" width="669" height="58" rx="6.5" ry="6.5" fill="#fff" fill-opacity="0.9" stroke="#cccccc" stroke-width="4"/>
<line x1="193" y1="186" x2="259" y2="186" stroke="#383d49" stroke-width="4.2" stroke-linecap="square"/>
<text x="286" y="197.5" font-size="33.3" fill="#000">Jobless claims</text>
<rect x="557" y="174" width="92" height="25" fill="#e3e3e3"/>
<text x="662" y="197.5" font-size="33.3" fill="#000">Recessions</text>
<rect x="3822.1" y="47.0" width="65.9" height="65.6" fill="#f76570"/>
<path d="M3881.0 62.8 L3866.1 78.5 L3884.0 96.7 L3866.9 93.9 L3856.2 85.5 L3846.4 90.7 L3826.4 86.7 L3844.8 79.0 L3829.0 73.6 L3849.3 69.1 L3855.8 72.2 L3864.0 66.1 Z" fill="#fff"/>
<text x="3900.4 3939.9 3965.6" y="96.8" font-size="58.5" font-weight="bold" fill="#48454c" stroke="#48454c" stroke-width="2">xtb</text>
</svg></body></html>
